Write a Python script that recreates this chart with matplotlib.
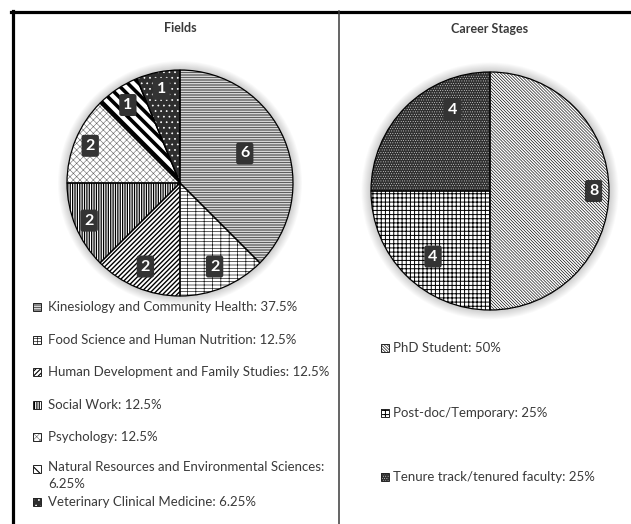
import matplotlib
matplotlib.use("Agg")
import matplotlib.pyplot as plt
import numpy as np
from matplotlib.patches import Wedge, Circle, Rectangle
from matplotlib.lines import Line2D

# ---------------- data ----------------
field_labels = ["Kinesiology and Community Health: 37.5%",
                "Food Science and Human Nutrition: 12.5%",
                "Human Development and Family Studies: 12.5%",
                "Social Work: 12.5%",
                "Psychology: 12.5%",
                "Natural Resources and Environmental Sciences:\n6.25%",
                "Veterinary Clinical Medicine: 6.25%"]
field_counts = [6, 2, 2, 2, 2, 1, 1]

stage_labels = ["PhD Student: 50%",
                "Post-doc/Temporary: 25%",
                "Tenure track/tenured faculty: 25%"]
stage_counts = [8, 4, 4]

# ---------------- styles ----------------
field_hatch = ['-' * 10, '-----||', '/' * 7, '|' * 7, 'xxxxx', '\\' * 3, '...']
field_hcol = ['#1a1a1a', '#1a1a1a', 'black', 'black', '#666666', 'black', 'white']
field_face = ['white', 'white', 'white', 'white', 'white', 'white', '#2e2e2e']
field_hlw = [0.5, 0.5, 1.0, 0.9, 0.4, 2.6, 0.5]
field_lab_r = [0.63, 0.80, 0.80, 0.87, 0.86, 0.83, 0.85]
field_lab_shift = [2, 0, 0, 0, 0, 0, 0]

stage_hatch = ['\\' * 11, '+' * 4, '.' * 7]
stage_hcol = ['black', 'black', 'white']
stage_face = ['white', 'white', '#303030']
stage_hlw = [0.45, 0.7, 0.25]
stage_lab_r = [0.87, 0.73, 0.75]
stage_lab_shift = [0, 4, -20]

W, H = 631, 524
fig = plt.figure(figsize=(W / 100, H / 100), dpi=100)
fig.patch.set_facecolor('white')

FONT = ['Lato', 'DejaVu Sans']
TXT = '#3a3a3a'


def px_axes(cx, cy, r, lim=1.15):
    s = r * lim
    ax = fig.add_axes([(cx - s) / W, 1 - (cy + s) / H, 2 * s / W, 2 * s / H])
    ax.set_xlim(-lim, lim)
    ax.set_ylim(-lim, lim)
    ax.set_aspect('equal')
    ax.axis('off')
    return ax


def draw_pie(ax, counts, hatches, hcols, faces, hlws, lab_r, lab_shift):
    # soft shadow halo
    for k in range(10, 0, -1):
        ax.add_patch(Circle((0, 0), 1.0 + k * 0.008, facecolor='#000000',
                            alpha=0.018, edgecolor='none', zorder=0))
    total = float(sum(counts))
    start = 90.0
    for i, v in enumerate(counts):
        sweep = v / total * 360.0
        t1 = start
        t0 = start - sweep
        with plt.rc_context({'hatch.linewidth': hlws[i]}):
            w = Wedge((0, 0), 1.0, t0, t1, facecolor=faces[i], edgecolor=hcols[i],
                      hatch=hatches[i], linewidth=0, zorder=1)
        try:
            w.set_hatch_linewidth(hlws[i])
        except Exception:
            pass
        ax.add_patch(w)
        ax.add_patch(Wedge((0, 0), 1.0, t0, t1, facecolor='none', edgecolor='black',
                           linewidth=0.9, zorder=2))
        mid = np.deg2rad((t0 + t1) / 2 + lab_shift[i])
        ax.text(lab_r[i] * np.cos(mid), lab_r[i] * np.sin(mid), str(v),
                ha='center', va='center', color='white', fontsize=11.5,
                fontweight='bold', family=FONT, zorder=5,
                bbox=dict(boxstyle='round,pad=0.25,rounding_size=0.15',
                          facecolor='#333333', edgecolor='none'))
        start = t0


ax_l = px_axes(180, 183, 113)
draw_pie(ax_l, field_counts, field_hatch, field_hcol, field_face, field_hlw,
         field_lab_r, field_lab_shift)
ax_r = px_axes(490, 191, 119)
draw_pie(ax_r, stage_counts, stage_hatch, stage_hcol, stage_face, stage_hlw,
         stage_lab_r, stage_lab_shift)

# titles
fig.text(180 / W, 1 - 28 / H, "Fields", ha='center', va='center', fontsize=9,
         fontweight='bold', color=TXT, family=FONT)
fig.text(490 / W, 1 - 29 / H, "Career Stages", ha='center', va='center', fontsize=9,
         fontweight='bold', color=TXT, family=FONT)


def legend_item(x, y, hatch, hcol, face, hlw, label, tx, multiline=False):
    with plt.rc_context({'hatch.linewidth': min(hlw, 0.8)}):
        r = Rectangle(((x - 4) / W, 1 - (y + 4) / H), 8 / W, 8 / H,
                      transform=fig.transFigure, facecolor=face, edgecolor=hcol,
                      hatch=hatch, linewidth=0)
    fig.patches.append(r)
    fig.patches.append(Rectangle(((x - 4) / W, 1 - (y + 4) / H), 8 / W, 8 / H,
                                 transform=fig.transFigure, facecolor='none',
                                 edgecolor='#222222', linewidth=0.7))
    if multiline:
        fig.text((x + tx) / W, 1 - (y - 8) / H, label, ha='left', va='top',
                 fontsize=9.5, color=TXT, family=FONT, linespacing=1.45)
    else:
        fig.text((x + tx) / W, 1 - y / H, label, ha='left', va='center',
                 fontsize=9.5, color=TXT, family=FONT)


left_rows = [307, 340, 372, 405, 437, 469, 502]
for i, lab in enumerate(field_labels):
    legend_item(37, left_rows[i], field_hatch[i], field_hcol[i], field_face[i],
                field_hlw[i], lab, 11, multiline=('\n' in lab))

right_rows = [348, 413, 477]
for i, lab in enumerate(stage_labels):
    legend_item(385, right_rows[i], stage_hatch[i], stage_hcol[i], stage_face[i],
                stage_hlw[i], lab, 8)

# frame lines
fig.add_artist(Line2D([11 / W, 1.0], [1 - 11.5 / H, 1 - 11.5 / H], color='black',
                      linewidth=2.3, transform=fig.transFigure))
fig.add_artist(Line2D([12.5 / W, 12.5 / W], [1 - 10.5 / H, 0], color='black',
                      linewidth=2.3, transform=fig.transFigure))
fig.add_artist(Line2D([339 / W, 339 / W], [1 - 11 / H, 0], color='#3a3a3a',
                      linewidth=1.1, transform=fig.transFigure))

fig.savefig("out.png", dpi=100, facecolor='white')
